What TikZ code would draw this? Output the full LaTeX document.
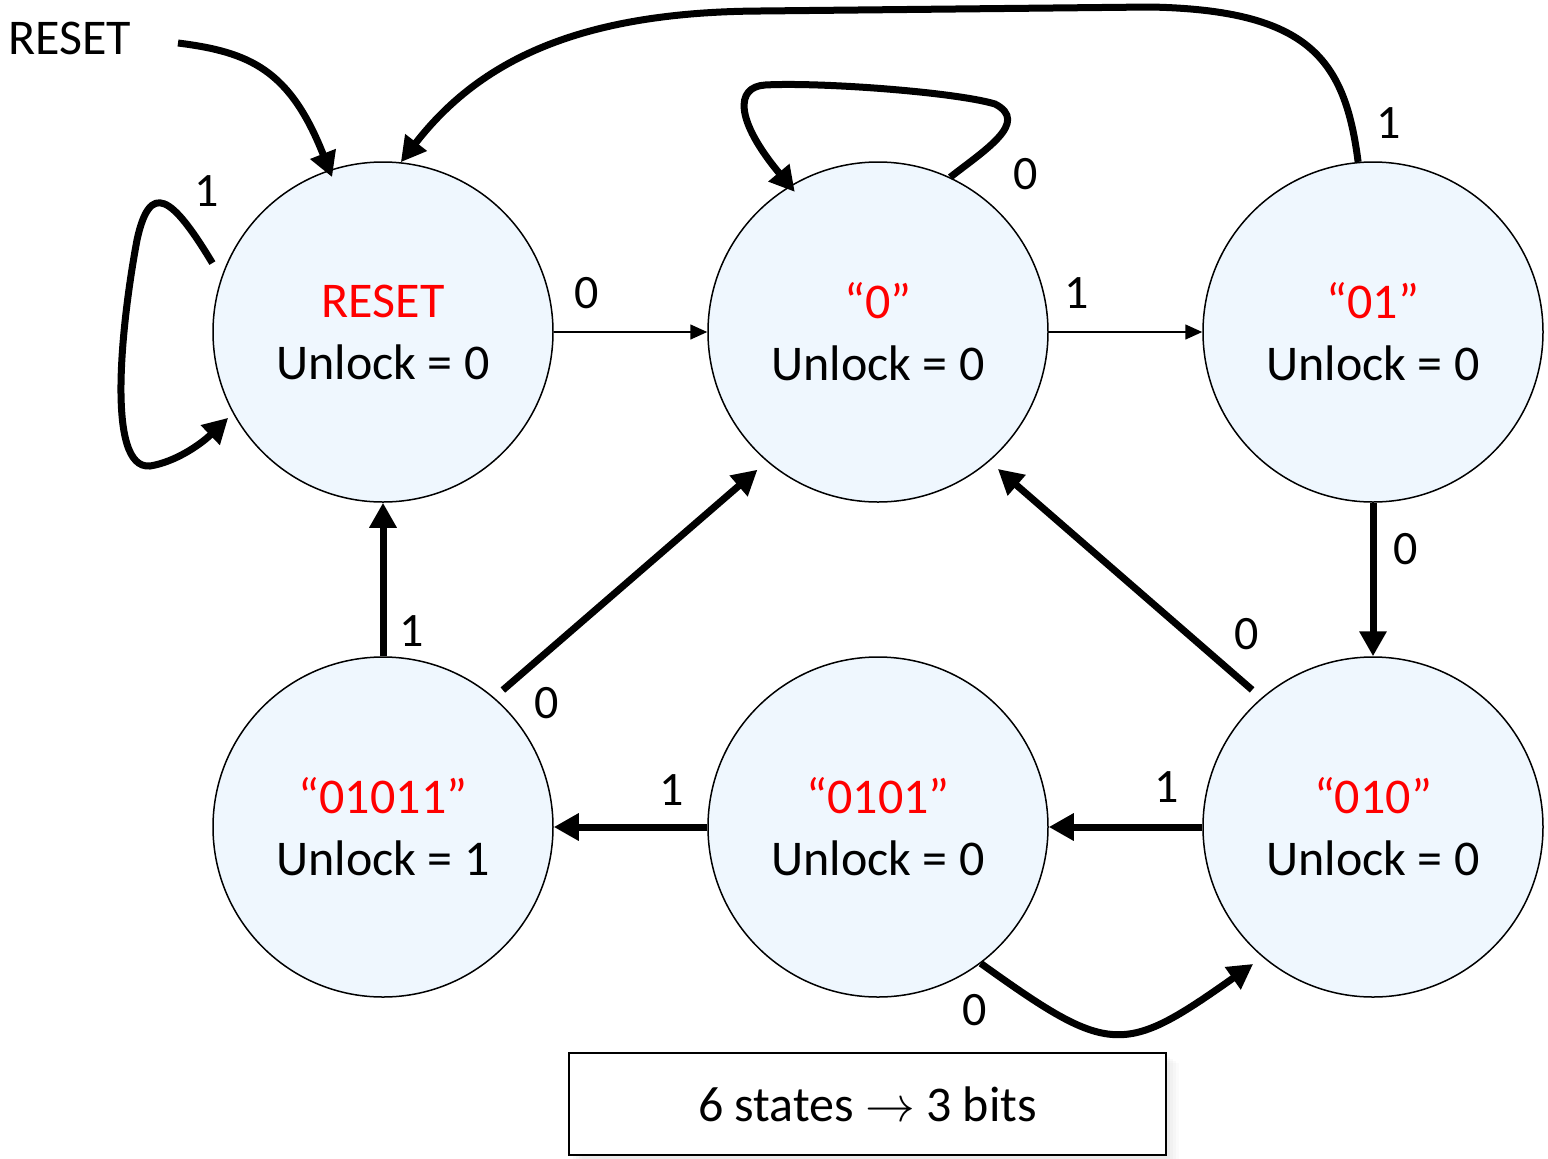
\documentclass[tikz,border=0pt]{standalone}
\usepackage{fontspec}
\setmainfont{Carlito}
\usetikzlibrary{arrows.meta,calc,shadows}
\definecolor{statefill}{RGB}{239,247,254}
\definecolor{statename}{RGB}{255,0,0}
\tikzset{
  state/.style={circle, draw, line width=0.75pt, fill=statefill,
    minimum size=170pt, inner sep=0pt, align=center,
    font=\fontsize{25}{31}\selectfont},
  heavy/.style={line width=3.5pt, -{Triangle[length=12.5pt,width=13pt]}},
  light/.style={line width=0.75pt, -{Triangle[length=8.5pt,width=7.5pt]}},
  lbl/.style={font=\fontsize{24}{28}\selectfont, inner sep=0pt},
  notebox/.style={draw, line width=0.8pt, fill=white, minimum width=298.5pt,
    minimum height=51pt, inner sep=0pt, font=\fontsize{25}{30}\selectfont},
}
\newcommand{\sname}[1]{\textcolor{statename}{#1}}
\begin{document}
\begin{tikzpicture}[x=0.5pt, y=-0.5pt]
  \useasboundingbox (0,0) rectangle (1548,1158);

  % states
  \node[state] (sR)     at (383,332)  {\sname{RESET}\\Unlock = 0};
  \node[state] (s0)     at (878,332)  {\sname{“0”}\\Unlock = 0};
  \node[state] (s01)    at (1373,332) {\sname{“01”}\\Unlock = 0};
  \node[state] (s01011) at (383,827)  {\sname{“01011”}\\Unlock = 1};
  \node[state] (s0101)  at (878,827)  {\sname{“0101”}\\Unlock = 0};
  \node[state] (s010)   at (1373,827) {\sname{“010”}\\Unlock = 0};

  % reset input
  \node[anchor=west, inner sep=0pt, font=\fontsize{25}{30}\selectfont] (rsttxt) at (8,38) {RESET};
  \coordinate (rstin) at (178,43);
  \draw[heavy] (rstin) .. controls (250,52) and (290,70) .. ($(sR)+(108.2:81.5pt)$);

  % self loop on RESET
  \draw[heavy] ($(sR)+(158:92pt)$) .. controls (172,196) and (150,180) .. (137,240)
    .. controls (122,320) and (105,470) .. (150,466)
    .. controls (175,462) and (200,445) .. ($(sR)+(209:88.5pt)$);
  \node[lbl] (lR) at (207,191) {1};

  % self loop on "0"
  \draw[heavy] (s0.65.4) .. controls (985,150) and (1030,122) .. (995,104)
    .. controls (955,92) and (820,82) .. (765,85)
    .. controls (735,87) and (735,120) .. ($(s0)+(120.7:81.5pt)$);
  \node[lbl] (l0) at (1026,174) {0};

  % top row
  \draw[light] (sR.east) -- (s0.west);
  \node[lbl] (lR0) at (587,293) {0};
  \draw[light] (s0.east) -- (s01.west);
  \node[lbl] (l001) at (1077,293) {1};

  % "01" back to RESET
  \draw[heavy] (s01.95.4) .. controls (1345,60) and (1310,10) .. (1150,7)
    -- (760,11) .. controls (580,12) and (480,60) .. (sR.84.4);
  \node[lbl] (l01R) at (1389,123) {1};

  % right column and bottom row
  \draw[heavy] (s01.south) -- (s010.north);
  \node[lbl] (l01010) at (1406,549) {0};
  \draw[heavy] (s010.west) -- (s0101.east);
  \node[lbl] (l0100101) at (1167,787) {1};
  \draw[heavy] (s0101.west) -- (s01011.east);
  \node[lbl] (l010101011) at (672,790) {1};
  \draw[heavy] (s01011.north) -- (sR.south);
  \node[lbl] (l01011R) at (412,631) {1};

  % diagonals back to "0"
  \draw[heavy] ($(s01011)+(48.8:91pt)$) -- ($(s0)+(228.8:91.5pt)$);
  \node[lbl] (l010110) at (547,703) {0};
  \draw[heavy] ($(s010)+(131.4:91.4pt)$) -- ($(s0)+(311.2:91pt)$);
  \node[lbl] (l0100) at (1247,634) {0};

  % "0101" back to "010"
  \draw[heavy] (s0101.-53.5) .. controls (1110,1056) and (1123,1056) .. ($(s010)+(228.8:91pt)$);
  \node[lbl] (l0101010) at (975,1010) {0};

  % note with a soft shadow
  \node[notebox,
    drop shadow={shadow xshift=2pt, shadow yshift=-2pt, opacity=0.05},
    drop shadow={shadow xshift=3.5pt, shadow yshift=-3pt, opacity=0.05},
    drop shadow={shadow xshift=5pt, shadow yshift=-4pt, opacity=0.04},
    drop shadow={shadow xshift=6.5pt, shadow yshift=-5pt, opacity=0.03}]
    (note) at (867.5,1104) {6 states $\rightarrow$ 3 bits};
\end{tikzpicture}
\end{document}
